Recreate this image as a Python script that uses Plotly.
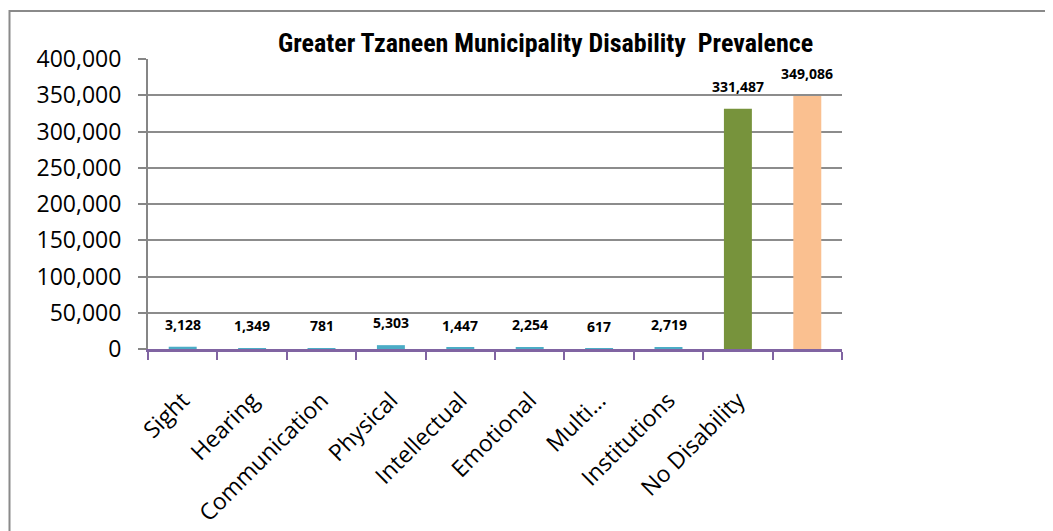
import plotly.graph_objects as go

categories = ["Sight", "Hearing", "Communication", "Physical", "Intellectual",
              "Emotional", "Multi…", "Institutions", "No Disability", " "]
values = [3128, 1349, 781, 5303, 1447, 2254, 617, 2719, 331487, 349086]
bar_colors = ["#4BACC6"] * 8 + ["#77933C", "#FAC090"]
title_text = "Greater Tzaneen Municipality Disability  Prevalence"
y_ticks = [0, 50000, 100000, 150000, 200000, 250000, 300000, 350000, 400000]

W, H = 1053, 531
OFF = 8  # page body margin
PL, PT, PW, PH = 148, 59, 694, 290  # plot area in screen pixels
L, T = PL - OFF, PT - OFF
R = W - L - PW
B = H - T - PH


def px(x):
    return (x - PL) / PW


def py(y):
    return (PT + PH - y) / PH


fig = go.Figure()
fig.add_trace(go.Bar(
    x=categories, y=values,
    marker=dict(color=bar_colors, line=dict(width=0)),
    hoverinfo="x+y",
))

annotations = []
for c, v in zip(categories, values):
    annotations.append(dict(
        x=c, y=v, xref="x", yref="y", text=f"{v:,}", showarrow=False,
        yanchor="bottom", yshift=11,
        font=dict(family="Open Sans", size=14, color="#000000", weight="bold"),
    ))
annotations.append(dict(
    x=px(545), y=py(43), xref="paper", yref="paper",
    text=title_text, showarrow=False, xanchor="center", yanchor="middle",
    font=dict(family="Liberation Sans Narrow, Arial Narrow, Roboto Condensed, sans-serif",
              size=26, color="#000000", weight="bold"),
))

fig.update_layout(
    width=W, height=H,
    margin=dict(l=L, r=R, t=T, b=B, autoexpand=False),
    paper_bgcolor="white", plot_bgcolor="white",
    bargap=0.597,
    showlegend=False,
    annotations=annotations,
    shapes=[dict(type="rect", xref="paper", yref="paper",
                 x0=px(9.5), x1=2.0, y0=-2.0, y1=py(11),
                 line=dict(color="#8A8A8A", width=2), fillcolor="rgba(0,0,0,0)",
                 layer="below")],
)

fig.update_xaxes(
    type="category",
    showline=True, linecolor="#8064A2", linewidth=2.5,
    ticks="outside", ticklen=8, tickwidth=2, tickcolor="#8064A2",
    tickson="boundaries",
    tickangle=-45,
    ticklabelstandoff=26,
    tickfont=dict(family="Open Sans", size=23, color="#000000"),
    showgrid=False, zeroline=False,
)
fig.update_yaxes(
    range=[0, 400000],
    tickvals=y_ticks, tickformat=",d",
    showline=True, linecolor="#868686", linewidth=2,
    ticks="outside", ticklen=8, tickwidth=2, tickcolor="#868686",
    showgrid=True, gridcolor="#8C8C8C", gridwidth=2,
    zeroline=False,
    tickfont=dict(family="Open Sans", size=23, color="#000000"),
    ticklabelstandoff=12,
)

fig.write_html("out.html")
